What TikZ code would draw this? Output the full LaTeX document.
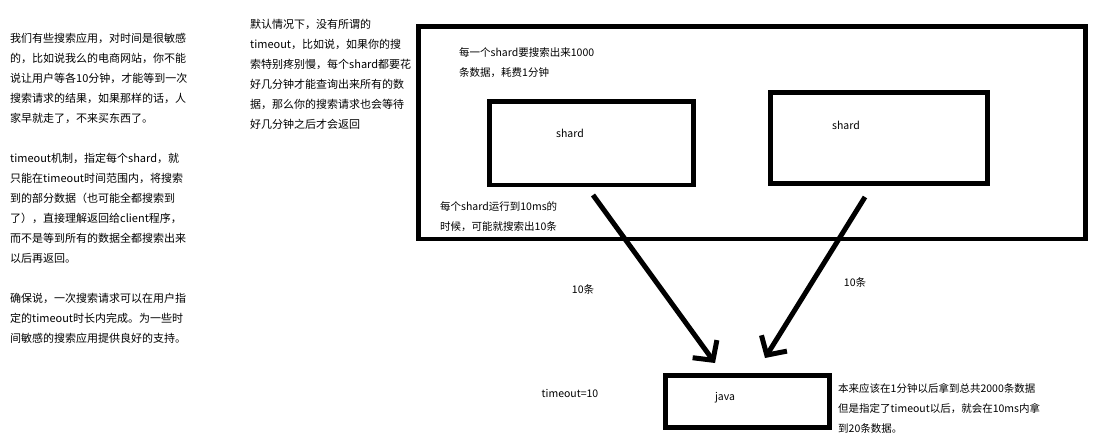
\documentclass[tikz,border=0pt]{standalone}
\usepackage{fontspec}
\setmainfont{Noto Sans CJK SC}
\usetikzlibrary{arrows.meta, positioning}

\begin{document}
\begin{tikzpicture}[x=1pt, y=-1pt,
            box/.style={draw, line width=4.5pt, inner sep=0pt},
            note/.style={font=\fontsize{11}{20}\selectfont, align=left, anchor=north west, inner sep=0pt},
            small/.style={font=\fontsize{10.5}{20}\selectfont, align=left, anchor=north west, inner sep=0pt},
            tag/.style={font=\fontsize{10.5}{12}\selectfont, inner sep=0pt},
            flow/.style={-{Straight Barb[length=14pt, width=30pt]}, line width=5pt}
        ]
        \useasboundingbox (0,0) rectangle (1104,437);

        % Notes (manual layout to match figure)
        \node[note] (why) at (10,32.5) {我们有些搜索应用，对时间是很敏感\\的，比如说我么的电商网站，你不能\\说让用户等各10分钟，才能等到一次\\搜索请求的结果，如果那样的话，人\\家早就走了，不来买东西了。};
        \node[note] (how) at (10,152.5) {timeout机制，指定每个shard，就\\只能在timeout时间范围内，将搜索\\到的部分数据（也可能全都搜索到\\了），直接理解返回给client程序，\\而不是等到所有的数据全都搜索出来\\以后再返回。};
        \node[note] (sure) at (10,292.5) {确保说，一次搜索请求可以在用户指\\定的timeout时长内完成。为一些时\\间敏感的搜索应用提供良好的支持。};
        \node[note] (default) at (250,19.5) {默认情况下，没有所谓的\\timeout，比如说，如果你的搜\\索特别疼别慢，每个shard都要花\\好几分钟才能查询出来所有的数\\据，那么你的搜索请求也会等待\\好几分钟之后才会返回};

        % Boxes
        \node[box, minimum width=667pt, minimum height=212.5pt] (index) at (752,132.75) {};
        \node[box, minimum width=204pt, minimum height=83.5pt] (shardA) at (591.5,143.25) {};
        \node[box, minimum width=217pt, minimum height=91pt] (shardB) at (879,138) {};
        \node[box, minimum width=164pt, minimum height=52pt] (java) at (747.5,401.5) {};

        % Labels
        \node[tag] at (570,133) {shard};
        \node[tag] at (846,125) {shard};
        \node[tag] at (725,398) {java};
        \node[small] (cost) at (459,47.5) {每一个shard要搜索出来1000\\条数据，耗费1分钟};
        \node[small] (part) at (440,201.5) {每个shard运行到10ms的\\时候，可能就搜索出10条};
        \node[tag] at (583,289) {10条};
        \node[tag] at (855,282) {10条};
        \node[tag] at (570,393) {timeout=10};
        \node[small] (result) at (838,383.5) {本来应该在1分钟以后拿到总共2000条数据\\但是指定了timeout以后，就会在10ms内拿\\到20条数据。};

        % Edges
        \coordinate (fromA) at (593,195);
        \coordinate (toA) at (715,363);
        \coordinate (fromB) at (865,197);
        \coordinate (toB) at (765,358);

        \draw[flow] (fromA) -- (toA);
        \draw[flow] (fromB) -- (toB);

        \end{tikzpicture}
\end{document}
